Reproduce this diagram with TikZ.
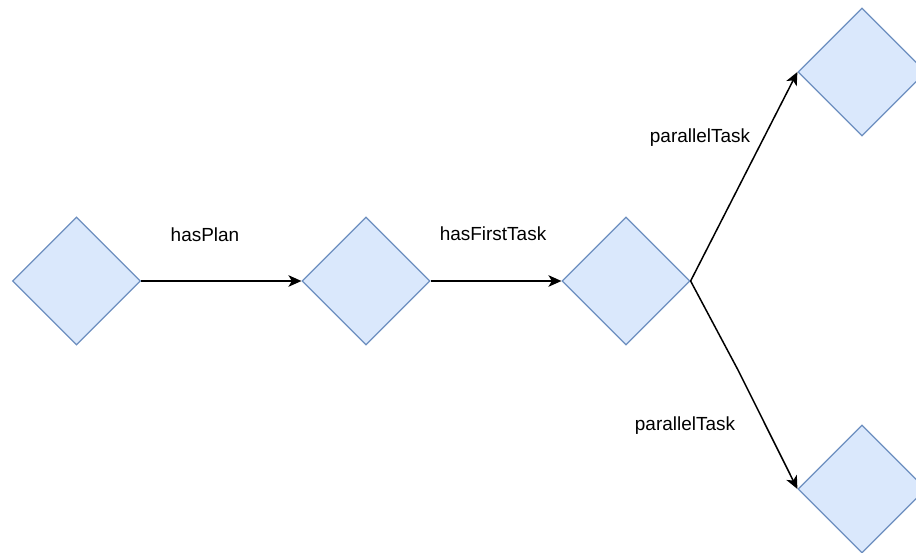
\documentclass[tikz,border=0pt]{standalone}
\usepackage{fontspec}
\setmainfont{Liberation Sans}
\usetikzlibrary{shapes.geometric,arrows.meta}
\definecolor{blueFill}{HTML}{DAE8FC}
\definecolor{blueEdge}{HTML}{6C8EBF}
\begin{document}
\begin{tikzpicture}[->,>={Stealth[length=7.4pt,width=6.6pt,inset=2pt]},x=0.02cm,y=-0.02cm]
\tikzset{Concept/.style = {diamond,draw=blueEdge,fill=blueFill,line width=0.7pt,
  minimum width=2.56cm,minimum height=2.56cm,inner sep=0pt,aspect=1},
  Rel/.style = {font=\fontsize{10.8}{12}\selectfont,inner sep=1pt},
  EdgeStyle/.style = {line width=0.85pt,black}}
\clip (0,0) rectangle (916,552);
\useasboundingbox (0,0) rectangle (916,552);
\node[Concept](1) at (76.5,281) {}; \node[Concept](2) at (366,281) {};
\node[Concept](3) at (626,281) {};
\node[Concept](4) at (862,72) {}; \node[Concept](5) at (862,489) {};
\coordinate (k) at (738,370);
\draw[EdgeStyle] (1.east) -- (2.west);
\draw[EdgeStyle] (2.east) -- (3.west);
\draw[EdgeStyle] (3.east) -- (4.west);
\draw[EdgeStyle] (3.east) -- (k) -- (5.west);
\node[Rel](p1) at (205,235) {hasPlan};
\node[Rel](p2) at (493,234) {hasFirstTask};
\node[Rel](p3) at (700,138) {parallelTask};
\node[Rel](p4) at (685,426) {parallelTask};
\end{tikzpicture}
\end{document}
